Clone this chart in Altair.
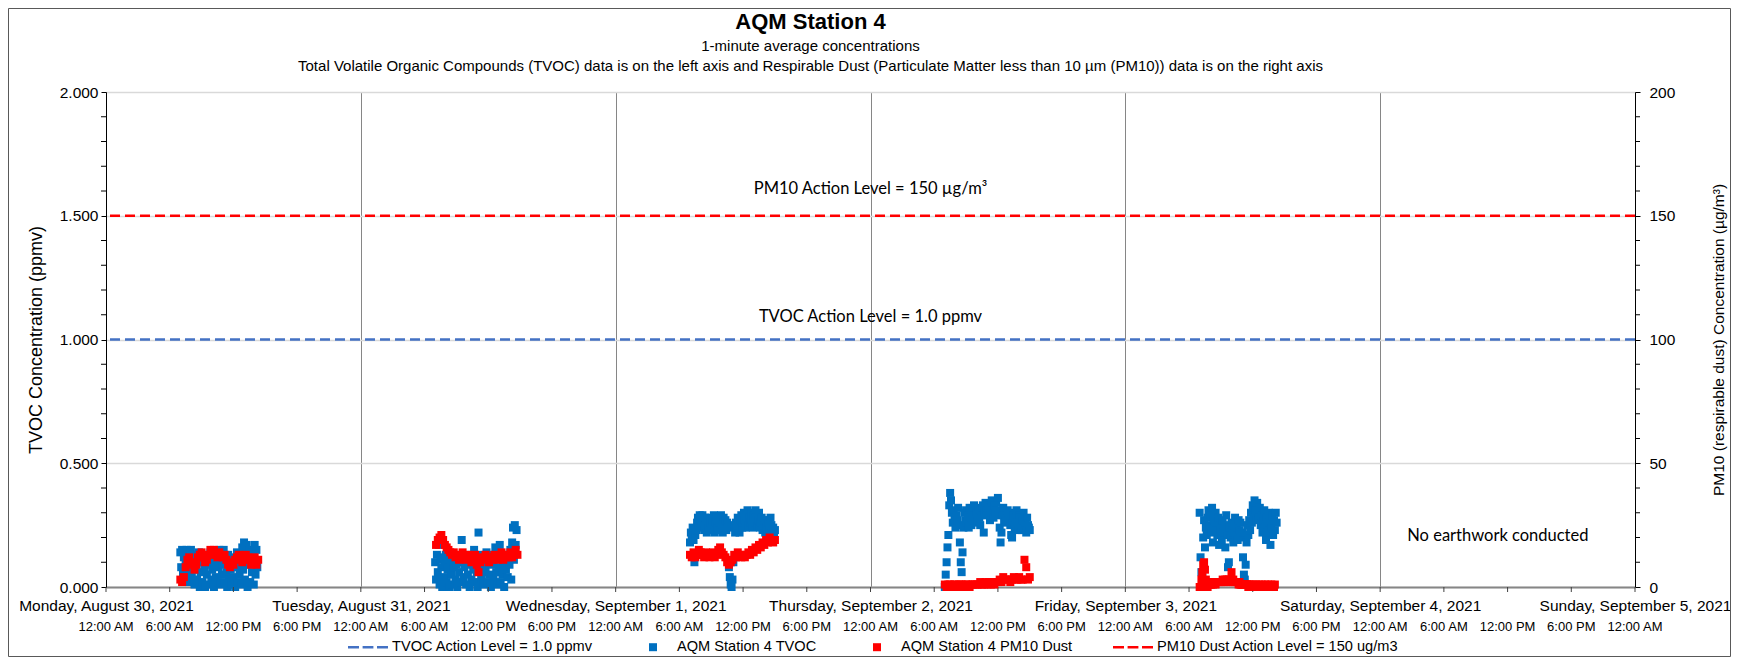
import altair as alt
import pandas as pd

# ---------------- text ----------------
TITLE = ["AQM Station 4"]
SUBTITLE = [
    "1-minute average concentrations",
    "Total Volatile Organic Compounds (TVOC) data is on the left axis and Respirable Dust "
    "(Particulate Matter less than 10 µm (PM10)) data is on the right axis",
]
LEFT_TITLE = "TVOC Concentration (ppmv)"
RIGHT_TITLE = "PM10 (respirable dust) Concentration (µg/m³)"

LEGEND_LABELS = [
    "TVOC Action Level = 1.0 ppmv",
    "AQM Station 4 TVOC",
    "AQM Station 4 PM10 Dust",
    "PM10 Dust Action Level = 150 ug/m3",
]
LEGEND_COLORS = ["#4472C4", "#0070C0", "#FF0000", "#FF0000"]

TVOC_ACTION = [1.0]
PM10_ACTION = [150]

LEFT_TICKS = [0.0, 0.5, 1.0, 1.5, 2.0]
LEFT_MINOR = [0.1, 0.2, 0.3, 0.4, 0.6, 0.7, 0.8, 0.9,
              1.1, 1.2, 1.3, 1.4, 1.6, 1.7, 1.8, 1.9]
RIGHT_TICKS = [0, 50, 100, 150, 200]
RIGHT_MINOR = [10, 20, 30, 40, 60, 70, 80, 90,
               110, 120, 130, 140, 160, 170, 180, 190]
# 6-hourly time-of-day tick positions along the x axis
TIME_TICKS = [t.strftime("%Y-%m-%dT%H:%M:%S")
              for t in pd.date_range("2021-08-30 00:00", "2021-09-05 00:00", freq="6h")]

ANN_TEXT = ["TVOC Action Level = 1.0 ppmv", "No earthwork conducted"]
ANN_TIME = ["2021-09-02T00:00:00", "2021-09-04T11:05:00"]
ANN_Y = [1.09, 0.206]
PM_ANN_TEXT = ["PM10 Action Level = 150 µg/m³"]
PM_ANN_TIME = ["2021-09-02T00:00:00"]
PM_ANN_Y = [161]

# ---------------- TVOC (ppmv), 5-minute samples ----------------
TVOC_DAYS = ["2021-08-30", "2021-08-31", "2021-09-01", "2021-09-02", "2021-09-03"]
TVOC_START = ["07:00", "07:00", "07:00", "07:00", "07:00"]
TVOC_STEP = [5, 5, 5, 5, 5]

tvoc_d1 = [
    0.14, 0.08, 0.15, 0.05, 0.12, 0.03, 0.10, 0.15, 0.06, 0.13, 0.02, 0.11,
    0.15, 0.04, 0.09, 0.13, 0.01, 0.07, 0.12, 0.03, 0.10, 0.14, 0.00, 0.06,
    0.11, 0.02, 0.13, 0.08, 0.00, 0.10, 0.05, 0.12, 0.01, 0.09, 0.14, 0.03,
    0.07, 0.12, 0.00, 0.10, 0.04, 0.13, 0.02, 0.08, 0.15, 0.01, 0.11, 0.05,
    0.09, 0.15, 0.02, 0.12, 0.06, 0.00, 0.13, 0.03, 0.10, 0.07, 0.01, 0.12,
    0.04, 0.11, 0.00, 0.08, 0.14, 0.02, 0.10, 0.05, 0.13, 0.01, 0.16, 0.07,
    0.18, 0.03, 0.12, 0.17, 0.00, 0.09, 0.15, 0.02, 0.11, 0.06, 0.14, 0.01,
    0.17, 0.05, 0.15, 0.08,
]
tvoc_d2 = [
    0.10, 0.03, 0.13, 0.06, 0.17, 0.01, 0.11, 0.08, 0.00, 0.12, 0.04, 0.09,
    0.13, 0.02, 0.07, 0.11, 0.00, 0.10, 0.05, 0.13, 0.01, 0.08, 0.12, 0.03,
    0.09, 0.00, 0.12, 0.06, 0.10, 0.02, 0.19, 0.13, 0.04, 0.08, 0.11, 0.01,
    0.12, 0.05, 0.09, 0.00, 0.13, 0.03, 0.10, 0.07, 0.15, 0.02, 0.11, 0.06,
    0.00, 0.22, 0.09, 0.13, 0.03, 0.11, 0.06, 0.01, 0.12, 0.08, 0.14, 0.02,
    0.10, 0.05, 0.13, 0.00, 0.09, 0.12, 0.03, 0.11, 0.16, 0.06, 0.01, 0.13,
    0.08, 0.17, 0.02, 0.12, 0.05, 0.10, 0.00, 0.13, 0.07, 0.11, 0.04, 0.12,
    0.09, 0.15, 0.03, 0.18, 0.24, 0.11, 0.25, 0.17, 0.23,
]
tvoc_d3 = [
    0.18, 0.22, 0.20, 0.24, 0.19, 0.10, 0.21, 0.23, 0.26, 0.28, 0.25, 0.29,
    0.27, 0.24, 0.29, 0.26, 0.23, 0.28, 0.25, 0.22, 0.27, 0.24, 0.28, 0.26,
    0.23, 0.27, 0.25, 0.29, 0.22, 0.26, 0.28, 0.24, 0.27, 0.23, 0.26, 0.29,
    0.25, 0.22, 0.28, 0.24, 0.27, 0.23, 0.26, 0.24, 0.08, 0.04, 0.01, 0.00,
    0.03, 0.10, 0.25, 0.22, 0.26, 0.24, 0.28, 0.25, 0.22, 0.27, 0.29, 0.24,
    0.26, 0.30, 0.27, 0.24, 0.29, 0.31, 0.25, 0.28, 0.26, 0.30, 0.27, 0.24,
    0.29, 0.26, 0.31, 0.28, 0.25, 0.27, 0.30, 0.24, 0.26, 0.28, 0.23, 0.27,
    0.25, 0.22, 0.27, 0.24, 0.21, 0.26, 0.23, 0.28, 0.25, 0.22, 0.24, 0.21,
    0.23,
]
tvoc_d4 = [
    0.00, 0.05, 0.10, 0.16, 0.21, 0.33, 0.38, 0.35, 0.30, 0.26, 0.31, 0.28,
    0.24, 0.29, 0.27, 0.32, 0.25, 0.18, 0.10, 0.06, 0.14, 0.24, 0.30, 0.27,
    0.31, 0.26, 0.29, 0.24, 0.32, 0.28, 0.25, 0.30, 0.27, 0.33, 0.29, 0.26,
    0.30, 0.27, 0.32, 0.28, 0.25, 0.31, 0.29, 0.33, 0.22, 0.30, 0.34, 0.31,
    0.29, 0.33, 0.30, 0.27, 0.32, 0.35, 0.31, 0.28, 0.33, 0.30, 0.34, 0.29,
    0.36, 0.31, 0.24, 0.18, 0.22, 0.29, 0.32, 0.27, 0.30, 0.26, 0.29, 0.31,
    0.27, 0.30, 0.25, 0.21, 0.20, 0.26, 0.29, 0.24, 0.28, 0.31, 0.26, 0.23,
    0.29, 0.25, 0.28, 0.23, 0.27, 0.30, 0.24, 0.26, 0.22, 0.28, 0.25, 0.24,
    0.23,
]
tvoc_d5 = [
    0.30, 0.12, 0.06, 0.04, 0.20, 0.27, 0.16, 0.24, 0.21, 0.28, 0.31, 0.25,
    0.29, 0.22, 0.32, 0.18, 0.27, 0.24, 0.30, 0.26, 0.21, 0.28, 0.17, 0.25,
    0.23, 0.19, 0.27, 0.22, 0.25, 0.16, 0.29, 0.21, 0.08, 0.10, 0.24, 0.20,
    0.26, 0.22, 0.18, 0.25, 0.28, 0.21, 0.24, 0.19, 0.27, 0.23, 0.26, 0.20,
    0.22, 0.12, 0.05, 0.03, 0.09, 0.18, 0.25, 0.21, 0.27, 0.23, 0.30, 0.26,
    0.33, 0.29, 0.35, 0.31, 0.27, 0.34, 0.30, 0.28, 0.32, 0.25, 0.29, 0.22,
    0.27, 0.31, 0.24, 0.19, 0.28, 0.22, 0.30, 0.26, 0.17, 0.24, 0.29, 0.21,
    0.27, 0.23, 0.30, 0.26,
]

# ---------------- PM10 (ug/m3) ----------------
PM_DAYS = ["2021-08-30", "2021-08-31", "2021-09-01", "2021-09-02", "2021-09-03"]
PM_START = ["07:00", "07:05", "07:00", "07:00", "07:00"]
PM_STEP = [10, 10, 10, 10, 5]

pm_d1 = [3, 2, 4, 8, 11, 12, 9, 10, 7, 9, 12, 13, 14, 12, 10, 11, 13, 15,
         14, 15, 13, 12, 14, 13, 12, 13, 11, 9, 8, 10, 9, 11, 12, 13, 12, 10,
         11, 13, 12, 11, 9, 10, 12, 9, 11]
pm_d2 = [17, 19, 20, 21, 19, 17, 16, 15, 14, 13, 14, 12, 13, 11, 12, 14, 12, 11,
         13, 12, 10, 11, 13, 9, 6, 10, 12, 11, 13, 12, 10, 12, 11, 13, 12, 11,
         12, 14, 11, 12, 13, 12, 14, 12, 13, 15, 13]
pm_d3 = [13, 12, 14, 12, 13, 15, 14, 13, 12, 14, 13, 12, 13, 14, 12, 13, 15, 16,
         14, 13, 12, 10, 9, 10, 11, 13, 12, 14, 13, 12, 13, 12, 13, 14, 13, 15,
         14, 16, 15, 17, 16, 18, 17, 19, 18, 20, 19, 18, 19]
pm_d4 = [1, 0, 1, 1, 0, 1, 1, 0, 1, 1, 1, 0, 1, 1, 0, 1, 1, 1,
         1, 1, 2, 1, 1, 2, 1, 2, 1, 2, 1, 2, 2, 3, 2, 4, 3, 3,
         3, 2, 3, 4, 3, 3, 4, 3, 3, 11, 8, 3, 4]
pm_d5 = [0, 0, 3, 6, 9, 10, 7, 3, 1, 0, 1, 1,
         1, 1, 2, 1, 2, 2, 1, 2, 2, 2, 2, 2,
         2, 2, 3, 2, 2, 3, 2, 3, 2, 3, 2, 2,
         6, 2, 3, 2, 2, 2, 2, 2, 1, 2, 1, 1,
         1, 1, 1, 1, 1, 1, 1, 0, 1, 0, 1, 0,
         0, 1, 0, 0, 1, 0, 0, 1, 0, 0, 1, 0,
         0, 0, 1, 0, 0, 1, 0, 0, 0, 1, 0, 0,
         0, 1]


def build(days, starts, steps, lists, col, name):
    rows = []
    for d, s, st, vals in zip(days, starts, steps, lists):
        t0 = pd.Timestamp(f"{d} {s}")
        for i, v in enumerate(vals):
            t = t0 + pd.Timedelta(minutes=st * i)
            rows.append({"time": t.strftime("%Y-%m-%dT%H:%M:%S"), col: v, "series": name})
    return pd.DataFrame(rows)


df_tvoc = build(TVOC_DAYS, TVOC_START, TVOC_STEP,
                [tvoc_d1, tvoc_d2, tvoc_d3, tvoc_d4, tvoc_d5], "tvoc", LEGEND_LABELS[1])
df_pm = build(PM_DAYS, PM_START, PM_STEP,
              [pm_d1, pm_d2, pm_d3, pm_d4, pm_d5], "pm", LEGEND_LABELS[2])
df_ann = pd.DataFrame({"time": ANN_TIME, "y": ANN_Y, "label": ANN_TEXT})
df_pm_ann = pd.DataFrame({"time": PM_ANN_TIME, "y": PM_ANN_Y, "label": PM_ANN_TEXT})
df_tvoc_rule = pd.DataFrame({"v": TVOC_ACTION})
df_pm_rule = pd.DataFrame({"v": PM10_ACTION})
df_lminor = pd.DataFrame({"v": LEFT_MINOR})
df_rminor = pd.DataFrame({"v": RIGHT_MINOR})
df_time = pd.DataFrame({"time": TIME_TICKS})
df_title = pd.DataFrame({"text": TITLE})
df_sub = pd.DataFrame({"text": ["\n".join(SUBTITLE)]})

# ---------------- geometry / style ----------------
W, H = 1529, 495
# outer chart border (relative to the plot area); it also fixes the page layout
BL, BT, BR, BB = 98, 84, 96, 70
TITLE_X = W / 2 - 60
FONT = "Liberation Sans"

SQUARE = "M-0.2,-0.2 L0.2,-0.2 L0.2,0.2 L-0.2,0.2 Z"
DASH = ("M-1,-0.06 L-0.45,-0.06 L-0.45,0.06 L-1,0.06 Z "
        "M-0.27,-0.06 L0.27,-0.06 L0.27,0.06 L-0.27,0.06 Z "
        "M0.45,-0.06 L1,-0.06 L1,0.06 L0.45,0.06 Z")
SHAPES = [DASH, SQUARE, SQUARE, DASH]

color_scale = alt.Scale(domain=LEGEND_LABELS, range=LEGEND_COLORS)
shape_scale = alt.Scale(domain=LEGEND_LABELS, range=SHAPES)
xscale = alt.Scale(domain=["2021-08-30T00:00:00", "2021-09-05T00:00:00"])
yl_scale = alt.Scale(domain=[0, 2], nice=False)
yr_scale = alt.Scale(domain=[0, 200], nice=False)

legend = alt.Legend(orient="none", legendX=242, legendY=535,
                    direction="horizontal", columns=4, title=None)

day_axis = alt.Axis(
    orient="bottom", format="%A, %B %-d, %Y", tickCount=6,
    labelFontSize=15.5, labelPadding=11, ticks=False,
    domain=True, domainColor="#868686", domainWidth=2,
    grid=True, gridColor="#868686", gridWidth=1, labelLimit=400,
    labelFlush=False, labelOverlap=False, title=None,
)
left_axis = alt.Axis(
    orient="left", values=LEFT_TICKS, title=LEFT_TITLE, format=".3f",
    grid=True, gridColor="#D9D9D9", gridWidth=1.3,
    domainColor="black", tickColor="black", tickSize=5, labelPadding=3,
    labelFontSize=15.5, titleFontSize=18, titlePadding=14,
)
right_axis = alt.Axis(
    orient="right", values=RIGHT_TICKS, title=RIGHT_TITLE,
    grid=False, domainColor="black", tickColor="black", tickSize=5, labelPadding=9,
    labelFontSize=15.5, titleFontSize=15.5, titlePadding=52, titleAngle=270,
)

border = alt.Chart(df_tvoc_rule).mark_rect(
    fill="white", fillOpacity=0, stroke="#595959", strokeWidth=1
).encode(
    x=alt.value(0.5 - BL), x2=alt.value(W + BR - 0.5),
    y=alt.value(0.5 - BT), y2=alt.value(H + BB - 0.5),
)
title_txt = alt.Chart(df_title).mark_text(
    font=FONT, fontSize=22, fontWeight="bold", color="black",
    align="center", baseline="middle",
).encode(x=alt.value(TITLE_X), y=alt.value(-70), text="text:N")
sub_txt = alt.Chart(df_sub).mark_text(
    font=FONT, fontSize=15, color="black", align="center", baseline="top",
    lineBreak="\n", lineHeight=20,
).encode(x=alt.value(TITLE_X), y=alt.value(-53), text="text:N")

tvoc_pts = alt.Chart(df_tvoc).mark_point(
    filled=True, size=1600, opacity=1, strokeWidth=0
).encode(
    x=alt.X("time:T", scale=xscale, axis=day_axis),
    y=alt.Y("tvoc:Q", scale=yl_scale, axis=left_axis),
    color=alt.Color("series:N", scale=color_scale, legend=legend),
    shape=alt.Shape("series:N", scale=shape_scale, legend=legend),
)
tvoc_rule = alt.Chart(df_tvoc_rule).mark_rule(
    color="#4472C4", strokeWidth=2.5, strokeDash=[10, 5]
).encode(y=alt.Y("v:Q", scale=yl_scale))
ann = alt.Chart(df_ann).mark_text(
    font="Lato", fontSize=16.5, color="black", align="center", baseline="middle"
).encode(
    x=alt.X("time:T", scale=xscale),
    y=alt.Y("y:Q", scale=yl_scale),
    text="label:N",
)
lminor = alt.Chart(df_lminor).mark_rule(color="black", strokeWidth=1).encode(
    y=alt.Y("v:Q", scale=yl_scale), x=alt.value(-5), x2=alt.value(0)
)
tticks = alt.Chart(df_time).mark_rule(color="#404040", strokeWidth=1).encode(
    x=alt.X("time:T", scale=xscale), y=alt.value(H), y2=alt.value(H + 5)
)
tlabels = alt.Chart(df_time).mark_text(
    font=FONT, fontSize=13, color="black", align="center", baseline="middle"
).encode(
    x=alt.X("time:T", scale=xscale),
    y=alt.value(H + 40),
    text=alt.Text("time:T", format="%-I:%M %p"),
)
left = alt.layer(border, title_txt, sub_txt, tvoc_pts, tvoc_rule, ann,
                 lminor, tticks, tlabels)

pm_pts = alt.Chart(df_pm).mark_point(
    filled=True, size=1600, opacity=1, strokeWidth=0
).encode(
    x=alt.X("time:T", scale=xscale),
    y=alt.Y("pm:Q", scale=yr_scale, axis=right_axis),
    color=alt.Color("series:N", scale=color_scale, legend=legend),
    shape=alt.Shape("series:N", scale=shape_scale, legend=legend),
)
pm_rule = alt.Chart(df_pm_rule).mark_rule(
    color="#FF0000", strokeWidth=2.5, strokeDash=[10, 5]
).encode(y=alt.Y("v:Q", scale=yr_scale))
pm_ann = alt.Chart(df_pm_ann).mark_text(
    font="Lato", fontSize=16.5, color="black", align="center", baseline="middle"
).encode(
    x=alt.X("time:T", scale=xscale),
    y=alt.Y("y:Q", scale=yr_scale),
    text="label:N",
)
rminor = alt.Chart(df_rminor).mark_rule(color="black", strokeWidth=1).encode(
    y=alt.Y("v:Q", scale=yr_scale), x=alt.value(W), x2=alt.value(W + 5)
)
right = alt.layer(pm_pts, pm_rule, pm_ann, rminor)

chart = alt.layer(left, right).resolve_scale(y="independent").properties(
    width=W, height=H, padding=0,
).configure_view(stroke=None).configure_axis(
    labelFont=FONT, titleFont=FONT, labelColor="black", titleColor="black",
    titleFontWeight="normal",
).configure_legend(
    symbolSize=1600, labelFont=FONT, labelFontSize=14.6, labelColor="black",
    columnPadding=40, labelOffset=4, symbolStrokeWidth=0, symbolOpacity=1,
    labelLimit=400,
)

chart.save("out.html", embed_options={"renderer": "svg", "actions": False})
